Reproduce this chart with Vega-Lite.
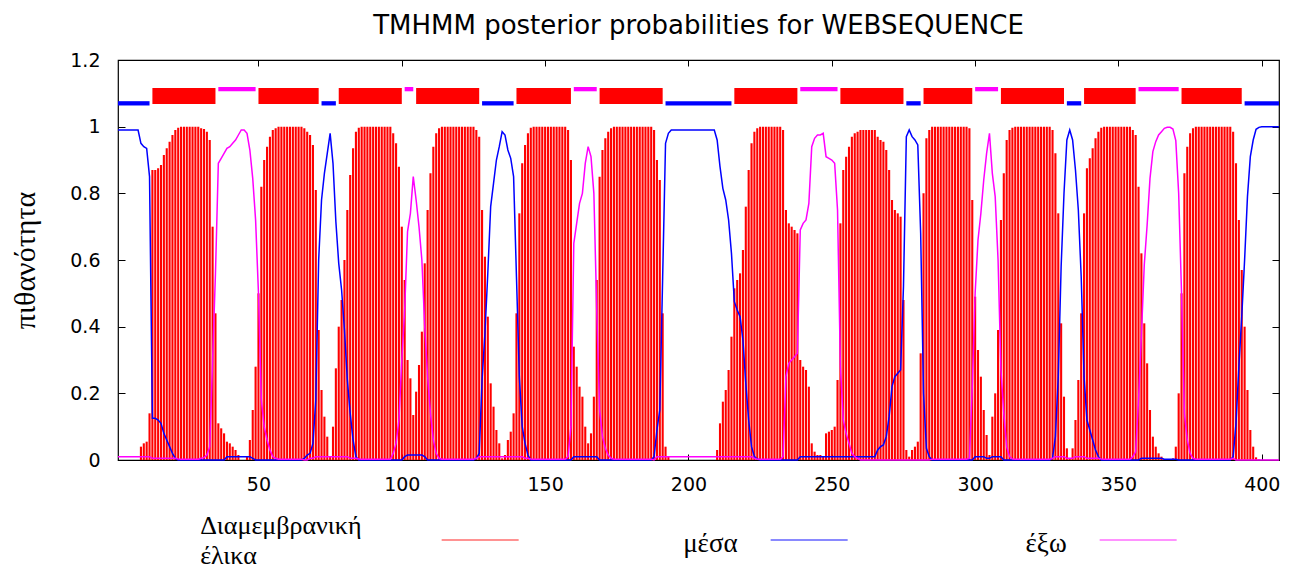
{
"$schema": "https://vega.github.io/schema/vega-lite/v6.json",
"width": 1161, "height": 400,
"autosize": "none",
"padding": {"left": 118, "top": 60, "right": 13, "bottom": 109},
"background": "white",
"title": {"text": "TMHMM posterior probabilities for WEBSEQUENCE", "anchor": "middle", "frame": "group", "font": "DejaVu Sans", "fontSize": 26, "fontWeight": "normal", "color": "#000", "baseline": "alphabetic", "offset": -9},
"config": {"view": {"stroke": "#000", "strokeWidth": 1.2}, "axis": {"grid": false, "domain": false, "tickColor": "#000", "labelColor": "#000", "titleColor": "#000"}},
"datasets": {
"prob": [
{"pos":1,"tm":0,"in":0.99,"out":0.01},{"pos":2,"tm":0,"in":0.99,"out":0.01},{"pos":3,"tm":0,"in":0.99,"out":0.01},{"pos":4,"tm":0,"in":0.99,"out":0.01},{"pos":5,"tm":0,"in":0.99,"out":0.01},{"pos":6,"tm":0,"in":0.99,"out":0.01},{"pos":7,"tm":0,"in":0.99,"out":0.01},{"pos":8,"tm":0,"in":0.99,"out":0.01},
{"pos":9,"tm":0.04,"in":0.95,"out":0.01},{"pos":10,"tm":0.05,"in":0.94,"out":0.01},{"pos":11,"tm":0.055,"in":0.935,"out":0.01},{"pos":12,"tm":0.14,"in":0.85,"out":0.01},
{"pos":13,"tm":0.87,"in":0.125,"out":0.005},{"pos":14,"tm":0.87,"in":0.125,"out":0.005},{"pos":15,"tm":0.875,"in":0.12,"out":0.005},{"pos":16,"tm":0.885,"in":0.11,"out":0.005},{"pos":17,"tm":0.915,"in":0.08,"out":0.005},{"pos":18,"tm":0.935,"in":0.06,"out":0.005},{"pos":19,"tm":0.955,"in":0.04,"out":0.005},{"pos":20,"tm":0.975,"in":0.02,"out":0.005},{"pos":21,"tm":0.99,"in":0.005,"out":0.005},{"pos":22,"tm":0.997,"in":0,"out":0.003},
{"pos":23,"tm":1,"in":0,"out":0.002},{"pos":24,"tm":1,"in":0,"out":0.002},{"pos":25,"tm":1,"in":0,"out":0.002},{"pos":26,"tm":1,"in":0,"out":0.002},{"pos":27,"tm":1,"in":0,"out":0.002},{"pos":28,"tm":1,"in":0,"out":0.002},{"pos":29,"tm":1,"in":0,"out":0.002},
{"pos":30,"tm":0.995,"in":0,"out":0.005},{"pos":31,"tm":0.993,"in":0,"out":0.007},{"pos":32,"tm":0.985,"in":0,"out":0.015},{"pos":33,"tm":0.96,"in":0,"out":0.04},{"pos":34,"tm":0.7,"in":0,"out":0.3},{"pos":35,"tm":0.44,"in":0,"out":0.56},{"pos":36,"tm":0.11,"in":0,"out":0.89},{"pos":37,"tm":0.095,"in":0,"out":0.905},{"pos":38,"tm":0.08,"in":0,"out":0.92},
{"pos":39,"tm":0.055,"in":0.01,"out":0.935},{"pos":40,"tm":0.05,"in":0.01,"out":0.94},{"pos":41,"tm":0.04,"in":0.01,"out":0.95},{"pos":42,"tm":0.03,"in":0.01,"out":0.96},{"pos":43,"tm":0.015,"in":0.01,"out":0.975},{"pos":44,"tm":0,"in":0.01,"out":0.99},{"pos":45,"tm":0,"in":0.01,"out":0.99},{"pos":46,"tm":0.01,"in":0.01,"out":0.98},{"pos":47,"tm":0.06,"in":0.01,"out":0.93},{"pos":48,"tm":0.15,"in":0.005,"out":0.845},
{"pos":49,"tm":0.28,"in":0,"out":0.72},{"pos":50,"tm":0.5,"in":0,"out":0.5},{"pos":51,"tm":0.82,"in":0,"out":0.18},{"pos":52,"tm":0.9,"in":0,"out":0.1},{"pos":53,"tm":0.94,"in":0,"out":0.06},{"pos":54,"tm":0.97,"in":0,"out":0.03},{"pos":55,"tm":0.99,"in":0,"out":0.01},{"pos":56,"tm":0.995,"in":0,"out":0.005},
{"pos":57,"tm":1,"in":0,"out":0.002},{"pos":58,"tm":1,"in":0,"out":0.002},{"pos":59,"tm":1,"in":0,"out":0.002},{"pos":60,"tm":1,"in":0,"out":0.002},{"pos":61,"tm":1,"in":0,"out":0.002},{"pos":62,"tm":1,"in":0,"out":0.002},{"pos":63,"tm":1,"in":0,"out":0.002},{"pos":64,"tm":1,"in":0,"out":0.002},{"pos":65,"tm":1,"in":0,"out":0.002},
{"pos":66,"tm":0.995,"in":0.005,"out":0},{"pos":67,"tm":0.985,"in":0.015,"out":0},{"pos":68,"tm":0.975,"in":0.02,"out":0.005},{"pos":69,"tm":0.945,"in":0.05,"out":0.005},{"pos":70,"tm":0.81,"in":0.18,"out":0.01},{"pos":71,"tm":0.39,"in":0.6,"out":0.01},{"pos":72,"tm":0.21,"in":0.78,"out":0.01},{"pos":73,"tm":0.13,"in":0.86,"out":0.01},{"pos":74,"tm":0.07,"in":0.92,"out":0.01},{"pos":75,"tm":0.01,"in":0.98,"out":0.01},{"pos":76,"tm":0.1,"in":0.89,"out":0.01},{"pos":77,"tm":0.275,"in":0.715,"out":0.01},{"pos":78,"tm":0.4,"in":0.59,"out":0.01},{"pos":79,"tm":0.48,"in":0.51,"out":0.01},{"pos":80,"tm":0.6,"in":0.39,"out":0.01},{"pos":81,"tm":0.75,"in":0.24,"out":0.01},{"pos":82,"tm":0.855,"in":0.14,"out":0.005},{"pos":83,"tm":0.935,"in":0.06,"out":0.005},{"pos":84,"tm":0.985,"in":0.01,"out":0.005},{"pos":85,"tm":0.997,"in":0,"out":0.003},
{"pos":86,"tm":1,"in":0,"out":0.002},{"pos":87,"tm":1,"in":0,"out":0.002},{"pos":88,"tm":1,"in":0,"out":0.002},{"pos":89,"tm":1,"in":0,"out":0.002},{"pos":90,"tm":1,"in":0,"out":0.002},{"pos":91,"tm":1,"in":0,"out":0.002},{"pos":92,"tm":1,"in":0,"out":0.002},{"pos":93,"tm":1,"in":0,"out":0.002},{"pos":94,"tm":1,"in":0,"out":0.002},{"pos":95,"tm":1,"in":0,"out":0.002},{"pos":96,"tm":1,"in":0,"out":0.002},
{"pos":97,"tm":0.98,"in":0,"out":0.02},{"pos":98,"tm":0.95,"in":0,"out":0.05},{"pos":99,"tm":0.88,"in":0,"out":0.12},{"pos":100,"tm":0.7,"in":0,"out":0.3},{"pos":101,"tm":0.54,"in":0.01,"out":0.45},{"pos":102,"tm":0.3,"in":0.015,"out":0.685},{"pos":103,"tm":0.245,"in":0.015,"out":0.74},{"pos":104,"tm":0.135,"in":0.015,"out":0.85},{"pos":105,"tm":0.205,"in":0.015,"out":0.78},{"pos":106,"tm":0.285,"in":0.015,"out":0.7},{"pos":107,"tm":0.385,"in":0.015,"out":0.6},{"pos":108,"tm":0.59,"in":0.01,"out":0.4},{"pos":109,"tm":0.75,"in":0,"out":0.25},{"pos":110,"tm":0.86,"in":0,"out":0.14},{"pos":111,"tm":0.94,"in":0,"out":0.06},{"pos":112,"tm":0.98,"in":0,"out":0.02},{"pos":113,"tm":0.995,"in":0,"out":0.005},
{"pos":114,"tm":1,"in":0,"out":0.002},{"pos":115,"tm":1,"in":0,"out":0.002},{"pos":116,"tm":1,"in":0,"out":0.002},{"pos":117,"tm":1,"in":0,"out":0.002},{"pos":118,"tm":1,"in":0,"out":0.002},{"pos":119,"tm":1,"in":0,"out":0.002},{"pos":120,"tm":1,"in":0,"out":0.002},{"pos":121,"tm":1,"in":0,"out":0.002},{"pos":122,"tm":1,"in":0,"out":0.002},{"pos":123,"tm":1,"in":0,"out":0.002},{"pos":124,"tm":1,"in":0,"out":0.002},{"pos":125,"tm":1,"in":0,"out":0.002},
{"pos":126,"tm":0.99,"in":0.005,"out":0.005},{"pos":127,"tm":0.97,"in":0.02,"out":0.01},{"pos":128,"tm":0.75,"in":0.24,"out":0.01},{"pos":129,"tm":0.61,"in":0.38,"out":0.01},{"pos":130,"tm":0.43,"in":0.56,"out":0.01},{"pos":131,"tm":0.23,"in":0.76,"out":0.01},{"pos":132,"tm":0.16,"in":0.83,"out":0.01},{"pos":133,"tm":0.09,"in":0.9,"out":0.01},{"pos":134,"tm":0.05,"in":0.94,"out":0.01},{"pos":135,"tm":0.005,"in":0.985,"out":0.01},{"pos":136,"tm":0.015,"in":0.975,"out":0.01},{"pos":137,"tm":0.06,"in":0.93,"out":0.01},{"pos":138,"tm":0.085,"in":0.905,"out":0.01},{"pos":139,"tm":0.14,"in":0.85,"out":0.01},{"pos":140,"tm":0.44,"in":0.55,"out":0.01},{"pos":141,"tm":0.74,"in":0.25,"out":0.01},{"pos":142,"tm":0.89,"in":0.1,"out":0.01},{"pos":143,"tm":0.945,"in":0.05,"out":0.005},{"pos":144,"tm":0.98,"in":0.015,"out":0.005},{"pos":145,"tm":0.997,"in":0,"out":0.003},
{"pos":146,"tm":1,"in":0,"out":0.002},{"pos":147,"tm":1,"in":0,"out":0.002},{"pos":148,"tm":1,"in":0,"out":0.002},{"pos":149,"tm":1,"in":0,"out":0.002},{"pos":150,"tm":1,"in":0,"out":0.002},{"pos":151,"tm":1,"in":0,"out":0.002},{"pos":152,"tm":1,"in":0,"out":0.002},{"pos":153,"tm":1,"in":0,"out":0.002},{"pos":154,"tm":1,"in":0,"out":0.002},{"pos":155,"tm":1,"in":0,"out":0.002},{"pos":156,"tm":1,"in":0,"out":0.002},{"pos":157,"tm":1,"in":0,"out":0.002},
{"pos":158,"tm":0.99,"in":0,"out":0.01},{"pos":159,"tm":0.9,"in":0,"out":0.1},{"pos":160,"tm":0.34,"in":0.01,"out":0.65},{"pos":161,"tm":0.28,"in":0.01,"out":0.71},{"pos":162,"tm":0.22,"in":0.01,"out":0.77},{"pos":163,"tm":0.19,"in":0.01,"out":0.8},{"pos":164,"tm":0.1,"in":0.01,"out":0.89},{"pos":165,"tm":0.05,"in":0.01,"out":0.94},{"pos":166,"tm":0.08,"in":0.01,"out":0.91},{"pos":167,"tm":0.19,"in":0.01,"out":0.8},{"pos":168,"tm":0.54,"in":0.01,"out":0.45},{"pos":169,"tm":0.85,"in":0,"out":0.15},{"pos":170,"tm":0.93,"in":0,"out":0.07},{"pos":171,"tm":0.965,"in":0,"out":0.035},{"pos":172,"tm":0.985,"in":0,"out":0.015},{"pos":173,"tm":0.995,"in":0,"out":0.005},
{"pos":174,"tm":1,"in":0,"out":0.002},{"pos":175,"tm":1,"in":0,"out":0.002},{"pos":176,"tm":1,"in":0,"out":0.002},{"pos":177,"tm":1,"in":0,"out":0.002},{"pos":178,"tm":1,"in":0,"out":0.002},{"pos":179,"tm":1,"in":0,"out":0.002},{"pos":180,"tm":1,"in":0,"out":0.002},{"pos":181,"tm":1,"in":0,"out":0.002},{"pos":182,"tm":1,"in":0,"out":0.002},{"pos":183,"tm":1,"in":0,"out":0.002},{"pos":184,"tm":1,"in":0,"out":0.002},{"pos":185,"tm":1,"in":0,"out":0.002},{"pos":186,"tm":1,"in":0,"out":0.002},{"pos":187,"tm":1,"in":0,"out":0.002},
{"pos":188,"tm":0.99,"in":0.01,"out":0},{"pos":189,"tm":0.9,"in":0.09,"out":0.01},{"pos":190,"tm":0.84,"in":0.15,"out":0.01},{"pos":191,"tm":0.44,"in":0.55,"out":0.01},{"pos":192,"tm":0.04,"in":0.95,"out":0.01},{"pos":193,"tm":0.01,"in":0.98,"out":0.01},
{"pos":194,"tm":0,"in":0.99,"out":0.01},{"pos":195,"tm":0,"in":0.99,"out":0.01},{"pos":196,"tm":0,"in":0.99,"out":0.01},{"pos":197,"tm":0,"in":0.99,"out":0.01},{"pos":198,"tm":0,"in":0.99,"out":0.01},{"pos":199,"tm":0,"in":0.99,"out":0.01},{"pos":200,"tm":0,"in":0.99,"out":0.01},{"pos":201,"tm":0,"in":0.99,"out":0.01},{"pos":202,"tm":0,"in":0.99,"out":0.01},{"pos":203,"tm":0,"in":0.99,"out":0.01},{"pos":204,"tm":0,"in":0.99,"out":0.01},{"pos":205,"tm":0,"in":0.99,"out":0.01},{"pos":206,"tm":0,"in":0.99,"out":0.01},{"pos":207,"tm":0,"in":0.99,"out":0.01},{"pos":208,"tm":0,"in":0.99,"out":0.01},{"pos":209,"tm":0,"in":0.99,"out":0.01},
{"pos":210,"tm":0.03,"in":0.96,"out":0.01},{"pos":211,"tm":0.11,"in":0.88,"out":0.01},{"pos":212,"tm":0.175,"in":0.815,"out":0.01},{"pos":213,"tm":0.21,"in":0.78,"out":0.01},{"pos":214,"tm":0.27,"in":0.72,"out":0.01},{"pos":215,"tm":0.37,"in":0.62,"out":0.01},{"pos":216,"tm":0.515,"in":0.475,"out":0.01},{"pos":217,"tm":0.54,"in":0.45,"out":0.01},{"pos":218,"tm":0.56,"in":0.43,"out":0.01},{"pos":219,"tm":0.63,"in":0.36,"out":0.01},{"pos":220,"tm":0.76,"in":0.23,"out":0.01},{"pos":221,"tm":0.87,"in":0.12,"out":0.01},{"pos":222,"tm":0.95,"in":0.04,"out":0.01},{"pos":223,"tm":0.985,"in":0.01,"out":0.005},{"pos":224,"tm":0.995,"in":0.003,"out":0.002},
{"pos":225,"tm":1,"in":0,"out":0.002},{"pos":226,"tm":1,"in":0,"out":0.002},{"pos":227,"tm":1,"in":0,"out":0.002},{"pos":228,"tm":1,"in":0,"out":0.002},{"pos":229,"tm":1,"in":0,"out":0.002},{"pos":230,"tm":1,"in":0,"out":0.002},{"pos":231,"tm":1,"in":0,"out":0.002},{"pos":232,"tm":1,"in":0,"out":0.002},
{"pos":233,"tm":0.99,"in":0,"out":0.01},{"pos":234,"tm":0.75,"in":0,"out":0.25},{"pos":235,"tm":0.71,"in":0,"out":0.29},{"pos":236,"tm":0.7,"in":0,"out":0.3},{"pos":237,"tm":0.69,"in":0,"out":0.31},{"pos":238,"tm":0.68,"in":0,"out":0.32},{"pos":239,"tm":0.3,"in":0.01,"out":0.69},{"pos":240,"tm":0.28,"in":0.01,"out":0.71},{"pos":241,"tm":0.27,"in":0.01,"out":0.72},{"pos":242,"tm":0.22,"in":0.01,"out":0.77},{"pos":243,"tm":0.05,"in":0.01,"out":0.94},{"pos":244,"tm":0.025,"in":0.01,"out":0.965},{"pos":245,"tm":0.015,"in":0.01,"out":0.975},{"pos":246,"tm":0.015,"in":0.01,"out":0.975},{"pos":247,"tm":0.01,"in":0.01,"out":0.98},{"pos":248,"tm":0.08,"in":0.01,"out":0.91},{"pos":249,"tm":0.085,"in":0.01,"out":0.905},{"pos":250,"tm":0.09,"in":0.01,"out":0.9},{"pos":251,"tm":0.1,"in":0.01,"out":0.89},{"pos":252,"tm":0.24,"in":0.01,"out":0.75},{"pos":253,"tm":0.71,"in":0.01,"out":0.28},{"pos":254,"tm":0.87,"in":0.01,"out":0.12},{"pos":255,"tm":0.91,"in":0.01,"out":0.08},{"pos":256,"tm":0.94,"in":0.01,"out":0.05},{"pos":257,"tm":0.97,"in":0.01,"out":0.02},{"pos":258,"tm":0.98,"in":0.01,"out":0.01},{"pos":259,"tm":0.985,"in":0.01,"out":0.005},
{"pos":260,"tm":0.99,"in":0.01,"out":0},{"pos":261,"tm":0.99,"in":0.01,"out":0},{"pos":262,"tm":0.99,"in":0.01,"out":0},{"pos":263,"tm":0.99,"in":0.01,"out":0},{"pos":264,"tm":0.99,"in":0.01,"out":0},{"pos":265,"tm":0.99,"in":0.01,"out":0},
{"pos":266,"tm":0.97,"in":0.03,"out":0},{"pos":267,"tm":0.96,"in":0.04,"out":0},{"pos":268,"tm":0.955,"in":0.045,"out":0},{"pos":269,"tm":0.93,"in":0.07,"out":0},{"pos":270,"tm":0.87,"in":0.13,"out":0},{"pos":271,"tm":0.78,"in":0.22,"out":0},{"pos":272,"tm":0.75,"in":0.25,"out":0},{"pos":273,"tm":0.74,"in":0.26,"out":0},{"pos":274,"tm":0.73,"in":0.27,"out":0},{"pos":275,"tm":0.48,"in":0.52,"out":0},{"pos":276,"tm":0.03,"in":0.97,"out":0},{"pos":277,"tm":0.01,"in":0.99,"out":0},{"pos":278,"tm":0.03,"in":0.97,"out":0},{"pos":279,"tm":0.04,"in":0.96,"out":0},{"pos":280,"tm":0.055,"in":0.945,"out":0},{"pos":281,"tm":0.32,"in":0.68,"out":0},{"pos":282,"tm":0.8,"in":0.2,"out":0},{"pos":283,"tm":0.965,"in":0.035,"out":0},{"pos":284,"tm":0.99,"in":0.01,"out":0},
{"pos":285,"tm":1,"in":0,"out":0.002},{"pos":286,"tm":1,"in":0,"out":0.002},{"pos":287,"tm":1,"in":0,"out":0.002},{"pos":288,"tm":1,"in":0,"out":0.002},{"pos":289,"tm":1,"in":0,"out":0.002},{"pos":290,"tm":1,"in":0,"out":0.002},{"pos":291,"tm":1,"in":0,"out":0.002},{"pos":292,"tm":1,"in":0,"out":0.002},{"pos":293,"tm":1,"in":0,"out":0.002},{"pos":294,"tm":1,"in":0,"out":0.002},{"pos":295,"tm":1,"in":0,"out":0.002},{"pos":296,"tm":1,"in":0,"out":0.002},{"pos":297,"tm":1,"in":0,"out":0.002},
{"pos":298,"tm":0.995,"in":0,"out":0.005},{"pos":299,"tm":0.78,"in":0,"out":0.22},{"pos":300,"tm":0.49,"in":0.01,"out":0.5},{"pos":301,"tm":0.33,"in":0.01,"out":0.66},{"pos":302,"tm":0.25,"in":0.01,"out":0.74},{"pos":303,"tm":0.15,"in":0.01,"out":0.84},{"pos":304,"tm":0.075,"in":0.005,"out":0.92},{"pos":305,"tm":0.015,"in":0.005,"out":0.98},{"pos":306,"tm":0.13,"in":0.01,"out":0.86},{"pos":307,"tm":0.2,"in":0.01,"out":0.79},{"pos":308,"tm":0.39,"in":0.01,"out":0.6},{"pos":309,"tm":0.72,"in":0.01,"out":0.27},{"pos":310,"tm":0.86,"in":0,"out":0.14},{"pos":311,"tm":0.96,"in":0,"out":0.04},{"pos":312,"tm":0.99,"in":0,"out":0.01},{"pos":313,"tm":0.997,"in":0,"out":0.003},
{"pos":314,"tm":1,"in":0,"out":0.002},{"pos":315,"tm":1,"in":0,"out":0.002},{"pos":316,"tm":1,"in":0,"out":0.002},{"pos":317,"tm":1,"in":0,"out":0.002},{"pos":318,"tm":1,"in":0,"out":0.002},{"pos":319,"tm":1,"in":0,"out":0.002},{"pos":320,"tm":1,"in":0,"out":0.002},{"pos":321,"tm":1,"in":0,"out":0.002},{"pos":322,"tm":1,"in":0,"out":0.002},{"pos":323,"tm":1,"in":0,"out":0.002},{"pos":324,"tm":1,"in":0,"out":0.002},{"pos":325,"tm":1,"in":0,"out":0.002},{"pos":326,"tm":1,"in":0,"out":0.002},
{"pos":327,"tm":0.99,"in":0.005,"out":0.005},{"pos":328,"tm":0.92,"in":0.07,"out":0.01},{"pos":329,"tm":0.74,"in":0.25,"out":0.01},{"pos":330,"tm":0.41,"in":0.58,"out":0.01},{"pos":331,"tm":0.19,"in":0.8,"out":0.01},{"pos":332,"tm":0.035,"in":0.96,"out":0.005},{"pos":333,"tm":0.005,"in":0.99,"out":0.005},{"pos":334,"tm":0.035,"in":0.96,"out":0.005},{"pos":335,"tm":0.12,"in":0.87,"out":0.01},{"pos":336,"tm":0.24,"in":0.75,"out":0.01},{"pos":337,"tm":0.44,"in":0.55,"out":0.01},{"pos":338,"tm":0.74,"in":0.25,"out":0.01},{"pos":339,"tm":0.875,"in":0.12,"out":0.005},{"pos":340,"tm":0.905,"in":0.09,"out":0.005},{"pos":341,"tm":0.935,"in":0.06,"out":0.005},{"pos":342,"tm":0.965,"in":0.03,"out":0.005},{"pos":343,"tm":0.985,"in":0.01,"out":0.005},{"pos":344,"tm":0.997,"in":0,"out":0.003},
{"pos":345,"tm":1,"in":0,"out":0.002},{"pos":346,"tm":1,"in":0,"out":0.002},{"pos":347,"tm":1,"in":0,"out":0.002},{"pos":348,"tm":1,"in":0,"out":0.002},{"pos":349,"tm":1,"in":0,"out":0.002},{"pos":350,"tm":1,"in":0,"out":0.002},{"pos":351,"tm":1,"in":0,"out":0.002},{"pos":352,"tm":1,"in":0,"out":0.002},{"pos":353,"tm":1,"in":0,"out":0.002},{"pos":354,"tm":1,"in":0,"out":0.002},
{"pos":355,"tm":0.99,"in":0,"out":0.01},{"pos":356,"tm":0.975,"in":0,"out":0.025},{"pos":357,"tm":0.82,"in":0,"out":0.18},{"pos":358,"tm":0.62,"in":0.005,"out":0.375},{"pos":359,"tm":0.41,"in":0.005,"out":0.585},{"pos":360,"tm":0.29,"in":0.005,"out":0.705},{"pos":361,"tm":0.15,"in":0.005,"out":0.845},{"pos":362,"tm":0.07,"in":0.005,"out":0.925},{"pos":363,"tm":0.04,"in":0.005,"out":0.955},{"pos":364,"tm":0.02,"in":0.005,"out":0.975},{"pos":365,"tm":0.01,"in":0.005,"out":0.985},{"pos":366,"tm":0.003,"in":0.002,"out":0.995},{"pos":367,"tm":0,"in":0.002,"out":0.998},{"pos":368,"tm":0,"in":0.002,"out":0.998},{"pos":369,"tm":0.005,"in":0.002,"out":0.993},{"pos":370,"tm":0.04,"in":0.002,"out":0.958},{"pos":371,"tm":0.2,"in":0,"out":0.8},{"pos":372,"tm":0.5,"in":0,"out":0.5},{"pos":373,"tm":0.86,"in":0,"out":0.14},{"pos":374,"tm":0.94,"in":0,"out":0.06},{"pos":375,"tm":0.98,"in":0,"out":0.02},{"pos":376,"tm":0.995,"in":0,"out":0.005},
{"pos":377,"tm":1,"in":0,"out":0.002},{"pos":378,"tm":1,"in":0,"out":0.002},{"pos":379,"tm":1,"in":0,"out":0.002},{"pos":380,"tm":1,"in":0,"out":0.002},{"pos":381,"tm":1,"in":0,"out":0.002},{"pos":382,"tm":1,"in":0,"out":0.002},{"pos":383,"tm":1,"in":0,"out":0.002},{"pos":384,"tm":1,"in":0,"out":0.002},{"pos":385,"tm":1,"in":0,"out":0.002},{"pos":386,"tm":1,"in":0,"out":0.002},{"pos":387,"tm":1,"in":0,"out":0.002},{"pos":388,"tm":1,"in":0,"out":0.002},{"pos":389,"tm":1,"in":0,"out":0.002},
{"pos":390,"tm":0.985,"in":0.01,"out":0.005},{"pos":391,"tm":0.89,"in":0.11,"out":0},{"pos":392,"tm":0.72,"in":0.28,"out":0},{"pos":393,"tm":0.57,"in":0.43,"out":0},{"pos":394,"tm":0.4,"in":0.6,"out":0},{"pos":395,"tm":0.21,"in":0.79,"out":0},{"pos":396,"tm":0.09,"in":0.91,"out":0},{"pos":397,"tm":0.04,"in":0.96,"out":0},{"pos":398,"tm":0.008,"in":0.992,"out":0},{"pos":399,"tm":0.002,"in":0.998,"out":0},
{"pos":400,"tm":0,"in":1,"out":0},{"pos":401,"tm":0,"in":1,"out":0},{"pos":402,"tm":0,"in":1,"out":0},{"pos":403,"tm":0,"in":1,"out":0},{"pos":404,"tm":0,"in":1,"out":0},{"pos":405,"tm":0,"in":1,"out":0},{"pos":406,"tm":0,"in":1,"out":0}
],
"segs": [
{"type":"inside","start":1,"end":12},{"type":"TMhelix","start":13,"end":35},{"type":"outside","start":36,"end":49},{"type":"TMhelix","start":50,"end":71},{"type":"inside","start":72,"end":77},{"type":"TMhelix","start":78,"end":100},{"type":"outside","start":101,"end":104},{"type":"TMhelix","start":105,"end":127},{"type":"inside","start":128,"end":139},{"type":"TMhelix","start":140,"end":159},{"type":"outside","start":160,"end":168},{"type":"TMhelix","start":169,"end":191},{"type":"inside","start":192,"end":215},{"type":"TMhelix","start":216,"end":238},{"type":"outside","start":239,"end":252},{"type":"TMhelix","start":253,"end":275},{"type":"inside","start":276,"end":281},{"type":"TMhelix","start":282,"end":299},{"type":"outside","start":300,"end":308},{"type":"TMhelix","start":309,"end":331},{"type":"inside","start":332,"end":337},{"type":"TMhelix","start":338,"end":356},{"type":"outside","start":357,"end":371},{"type":"TMhelix","start":372,"end":393},{"type":"inside","start":394,"end":406}
],
"leg": [{"series":"Διαμεμβρανική έλικα"},{"series":"μέσα"},{"series":"έξω"}]
},
"resolve": {"scale": {"x": "independent"}, "axis": {"y": "independent"}},
"layer": [
{"data": {"name": "prob"},
 "mark": {"type": "rule", "color": "#ff0000", "strokeWidth": 2.1},
 "encoding": {
  "x": {"field": "pos", "type": "quantitative", "scale": {"domain": [1, 406], "nice": false, "zero": false},
        "axis": {"orient": "bottom", "values": [50,100,150,200,250,300,350,400], "title": null, "labelFont": "DejaVu Sans", "labelFontSize": 19, "tickSize": -6, "labelPadding": 21, "labelFlush": false, "labelOverlap": false, "labelBound": false}},
  "y": {"field": "tm", "type": "quantitative", "scale": {"domain": [0, 1.2], "nice": false, "zero": true},
        "axis": {"orient": "left", "values": [0,0.2,0.4,0.6,0.8,1,1.2], "format": "~g", "labelFont": "DejaVu Sans", "labelFontSize": 19, "tickSize": -7, "labelPadding": 25, "title": "πιθανότητα", "titleFont": "Liberation Serif", "titleFontSize": 30, "titleFontWeight": "normal", "titlePadding": 29}},
  "y2": {"datum": 0}
 }},
{"data": {"name": "prob"},
 "mark": {"type": "line", "color": "#0000ff", "strokeWidth": 1.5},
 "encoding": {
  "x": {"field": "pos", "type": "quantitative", "scale": {"domain": [1, 406], "nice": false, "zero": false},
        "axis": {"orient": "top", "values": [50,100,150,200,250,300,350,400], "title": null, "labels": false, "tickSize": -6}},
  "y": {"field": "in", "type": "quantitative", "scale": {"domain": [0, 1.2], "nice": false, "zero": true},
        "axis": {"orient": "right", "values": [0,0.2,0.4,0.6,0.8,1,1.2], "title": null, "labels": false, "tickSize": -7}}
 }},
{"data": {"name": "prob"},
 "mark": {"type": "line", "color": "#ff00ff", "strokeWidth": 1.5},
 "encoding": {
  "x": {"field": "pos", "type": "quantitative", "scale": {"domain": [1, 406], "nice": false, "zero": false}, "axis": null},
  "y": {"field": "out", "type": "quantitative", "scale": {"domain": [0, 1.2], "nice": false, "zero": true}, "axis": null}
 }},
{"data": {"name": "segs"},
 "transform": [{"filter": "datum.type === 'TMhelix'"}],
 "mark": {"type": "rect", "color": "#ff0000"},
 "encoding": {
  "x": {"field": "start", "type": "quantitative", "scale": {"domain": [1, 406], "nice": false, "zero": false}, "axis": null},
  "x2": {"field": "end"},
  "y": {"datum": 1.0682, "type": "quantitative", "scale": {"domain": [0, 1.2], "nice": false, "zero": true}, "axis": null},
  "y2": {"datum": 1.1162}
 }},
{"data": {"name": "segs"},
 "transform": [{"filter": "datum.type === 'inside'"}],
 "mark": {"type": "rule", "color": "#0000ff", "strokeWidth": 4.3},
 "encoding": {
  "x": {"field": "start", "type": "quantitative", "scale": {"domain": [1, 406], "nice": false, "zero": false}, "axis": null},
  "x2": {"field": "end"},
  "y": {"datum": 1.07, "type": "quantitative", "scale": {"domain": [0, 1.2], "nice": false, "zero": true}, "axis": null}
 }},
{"data": {"name": "segs"},
 "transform": [{"filter": "datum.type === 'outside'"}],
 "mark": {"type": "rule", "color": "#ff00ff", "strokeWidth": 4.3},
 "encoding": {
  "x": {"field": "start", "type": "quantitative", "scale": {"domain": [1, 406], "nice": false, "zero": false}, "axis": null},
  "x2": {"field": "end"},
  "y": {"datum": 1.1126, "type": "quantitative", "scale": {"domain": [0, 1.2], "nice": false, "zero": true}, "axis": null}
 }},
{"data": {"name": "leg"},
 "mark": {"type": "tick", "orient": "horizontal", "size": 77, "thickness": 1.6},
 "encoding": {
  "x": {"field": "series", "type": "nominal", "scale": {"type": "point", "domain": ["Διαμεμβρανική έλικα", "μέσα", "έξω"], "padding": 0.7644, "align": 0.72}, "axis": null},
  "y": {"datum": -0.24, "type": "quantitative", "scale": {"domain": [0, 1.2], "nice": false, "zero": true}, "axis": null},
  "color": {"field": "series", "type": "nominal", "scale": {"domain": ["Διαμεμβρανική έλικα", "μέσα", "έξω"], "range": ["#ff3030", "#2020ff", "#ff30ff"]}, "legend": null}
 }},
{"data": {"name": "leg"},
 "transform": [{"filter": "datum.series === 'Διαμεμβρανική έλικα'"}],
 "mark": {"type": "text", "align": "left", "baseline": "alphabetic", "dx": -280, "lineBreak": " ", "lineHeight": 30, "font": "Liberation Serif", "fontSize": 26, "color": "#000"},
 "encoding": {
  "x": {"field": "series", "type": "nominal", "scale": {"type": "point", "domain": ["Διαμεμβρανική έλικα", "μέσα", "έξω"], "padding": 0.7644, "align": 0.72}, "axis": null},
  "y": {"datum": -0.222, "type": "quantitative", "scale": {"domain": [0, 1.2], "nice": false, "zero": true}, "axis": null},
  "text": {"field": "series"}
 }},
{"data": {"name": "leg"},
 "transform": [{"filter": "datum.series !== 'Διαμεμβρανική έλικα'"}],
 "mark": {"type": "text", "align": "right", "baseline": "alphabetic", "dx": -71.5, "font": "Liberation Serif", "fontSize": 27, "color": "#000"},
 "encoding": {
  "x": {"field": "series", "type": "nominal", "scale": {"type": "point", "domain": ["Διαμεμβρανική έλικα", "μέσα", "έξω"], "padding": 0.7644, "align": 0.72}, "axis": null},
  "y": {"datum": -0.276, "type": "quantitative", "scale": {"domain": [0, 1.2], "nice": false, "zero": true}, "axis": null},
  "text": {"field": "series"}
 }}
]
}
